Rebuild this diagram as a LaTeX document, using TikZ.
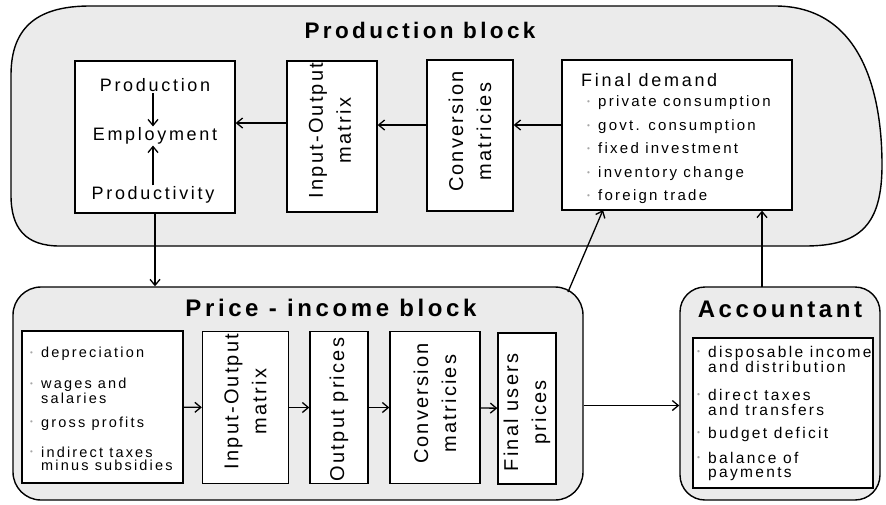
\documentclass[tikz,border=0pt]{standalone}
\usepackage{graphicx}
\usepackage{fontspec}
\setmainfont{Liberation Sans}[LetterSpace=15]
\newfontfamily\etroite{Liberation Sans}[LetterSpace=11]
\usetikzlibrary{arrows.meta,positioning}
\definecolor{blockgray}{gray}{0.92}
\newcommand{\puce}{\makebox[11pt][l]{\textcolor{gray!70}{\raisebox{0.3ex}{\scalebox{0.55}{\textbullet}}}}}
\newcommand{\vide}{\hphantom{\puce}}

\begin{document}
\begin{tikzpicture}[x=1pt,y=-1pt,%
    blk/.style={draw,line width=1.4pt,fill=blockgray},%
    boite/.style={draw,line width=1.3pt,fill=white,inner sep=0pt},%
    titre/.style={font=\fontsize{24}{26}\selectfont\bfseries},%
    texte/.style={font=\fontsize{18}{20}\selectfont,inner sep=1pt},%
    vert/.style={font=\etroite\fontsize{20}{28}\selectfont,rotate=90,align=center,inner sep=0pt},%
    liste/.style={align=left,inner sep=0pt},%
    fleche/.style={-{Straight Barb[length=6pt,width=10pt]},line width=1.3pt}%
    ]
  \useasboundingbox[fill=white] (0,0) rectangle (886,504);%

  % Coordonnées
  \coordinate (fl) at (0,125);%
  \coordinate (fx) at (153,0);%
  \coordinate (pout) at (568,292);%
  \coordinate (fdin) at (603,210);%
  \coordinate (aup) at (762,287);%

  % Blocs
  \draw[blk] (90,6) -- (775,6) .. controls (860,6) and (882,90) .. (882,165)
    .. controls (882,225) and (860,246) .. (805,246) -- (60,246)
    .. controls (25,246) and (11,228) .. (11,195) -- (11,75)
    .. controls (11,25) and (40,6) .. (90,6) -- cycle;%
  \node[titre,font=\fontsize{22.5}{24}\selectfont\bfseries] (tprod) at (420,30) {Production block};%
  \node[blk,rounded corners=28pt,minimum width=570pt,minimum height=213pt] (price) at (298,393.5) {};%
  \node[titre] (tprice) at (331,308) {Price - income block};%
  \node[blk,rounded corners=25pt,minimum width=200pt,minimum height=213pt] (acct) at (780,393.5) {};%
  \node[titre] (tacct) at (780,309) {Accountant};%

  % Boîtes du haut
  \node[boite,minimum width=160pt,minimum height=152pt] (emp) at (155,137) {};%
  \node[boite,minimum width=90pt,minimum height=151pt] (io) at (332,136.5) {};%
  \node[boite,minimum width=86pt,minimum height=151pt] (conv) at (470,135.5) {};%
  \node[boite,minimum width=230pt,minimum height=150pt] (fd) at (677,135) {};%

  \node[texte] (lprod) at (155,85) {Production};%
  \node[texte] (lemp) at (155,136) {Employment};%
  \node[texte] (lprodv) at (153,195) {Productivity};%
  \node[vert] (lio) at ([xshift=-2pt,yshift=6pt]io.center) {Input-Output\\matrix};%
  \node[vert] (lconv) at ([yshift=4pt]conv.center) {Conversion\\matricies};%
  \node[texte,anchor=west] (lfd) at (580,80) {Final demand};%
  \node[liste,anchor=west,font=\fontsize{15}{23.5}\selectfont] (lfdl) at (587,150)
    {\puce private consumption\\ \puce govt. consumption\\ \puce fixed investment\\
     \puce inventory change\\ \puce foreign trade};%

  % Boîtes du bas
  \node[boite,minimum width=161pt,minimum height=152pt] (cost) at (102.5,407) {};%
  \node[boite,minimum width=86pt,minimum height=152pt] (io2) at (245.5,407.5) {};%
  \node[boite,minimum width=58pt,minimum height=152pt] (outp) at (339,407.5) {};%
  \node[boite,minimum width=90pt,minimum height=152pt] (conv2) at (435,407.5) {};%
  \node[boite,minimum width=58pt,minimum height=151pt] (fup) at (527,408.5) {};%
  \node[boite,minimum width=180pt,minimum height=150pt] (acl) at (783,413) {};%

  \node[liste,anchor=north west,font=\fontsize{14.5}{14.5}\selectfont] (lcost) at (30,347)
    {\puce depreciation\\[16.5pt] \puce wages and\\ \vide salaries\\[9.5pt]
     \puce gross profits\\[15.5pt] \puce indirect taxes\\[-1.5pt] \vide minus subsidies};%
  \node[vert] (lio2) at ([yshift=6pt]io2.center) {Input-Output\\matrix};%
  \node[vert] (loutp) at ([yshift=-2pt]outp.center) {Output prices};%
  \node[vert] (lconv2) at ([yshift=4pt]conv2.center) {Conversion\\matricies};%
  \node[vert] (lfup) at ([yshift=-4pt]fup.center) {Final users\\prices};%
  \node[liste,anchor=north west,font=\fontsize{15.5}{15}\selectfont] (lacl) at (697,346)
    {\puce disposable income\\ \vide and distribution\\[13pt]
     \puce direct taxes\\ \vide and transfers\\[8pt]
     \puce budget deficit\\[10pt] \puce balance of\\[-1pt] \vide payments};%

  % Flèches
  \draw[fleche] (lprod.south -| fx) -- (lemp.north -| fx);%
  \draw[fleche] (lprodv.north -| fx) -- (lemp.south -| fx);%
  \draw[fleche] (fl -| fd.west) -- (fl -| conv.east);%
  \draw[fleche] (fl -| conv.west) -- (fl -| io.east);%
  \draw[fleche] ([yshift=2pt]fl -| io.west) -- ([yshift=2pt]fl -| emp.east);%
  \draw[fleche] (emp.south) -- (emp.south |- price.north);%
  \draw[fleche] (cost) -- (io2);%
  \draw[fleche] (io2) -- (outp);%
  \draw[fleche] (outp) -- (conv2);%
  \draw[fleche] (conv2) -- (fup);%
  \draw[fleche] ([yshift=3pt]fup.east -| price.east) -- ([yshift=3pt]fup.east -| acct.west);%
  \draw[fleche] (pout) -- (fdin);%
  \draw[fleche] (aup) -- (aup |- fd.south);%
\end{tikzpicture}
\end{document}
